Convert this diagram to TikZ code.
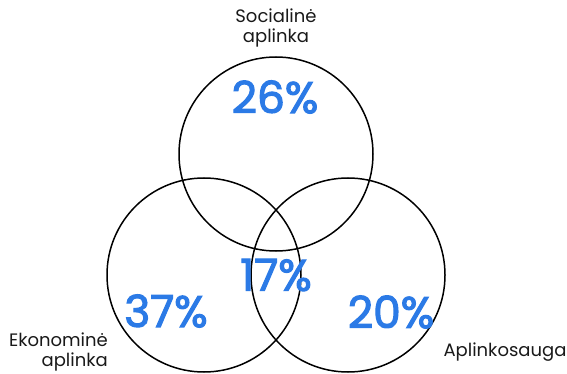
\documentclass[tikz,border=0pt]{standalone}
\usepackage{fontspec}
\setmainfont{Poppins}
\newfontfamily\pctfont{Poppins}[FakeBold=2.5]
\definecolor{figB}{RGB}{43,122,230}

\begin{document}
\begin{tikzpicture}[x=1pt,y=-1pt,
  pct/.style={figB,font=\fontsize{44}{44}\pctfont,inner sep=0pt},
  lbl/.style={black!90,font=\fontsize{18}{20}\selectfont,align=center,inner sep=0pt}]
\useasboundingbox (0,0) rectangle (567,374);
\draw[line width=1.5pt] (276,154) circle(97);
\draw[line width=1.5pt] (204,275) circle(97);
\draw[line width=1.5pt] (348,275) circle(97);
\node[pct] (soc) at (275,97) {26\%};
\node[pct] (mid) at (276,275) {17\%};
\node[pct] (eko) at (166,311) {37\%};
\node[pct] (apl) at (391,312) {20\%};
\node[lbl] (socT) at (276,28) {Socialinė\\aplinka};
\node[lbl,align=right,anchor=east] (ekoT) at (108,352) {Ekonominė\\aplinka};
\node[lbl] (aplT) at (505,352) {Aplinkosauga};
\end{tikzpicture}
\end{document}
